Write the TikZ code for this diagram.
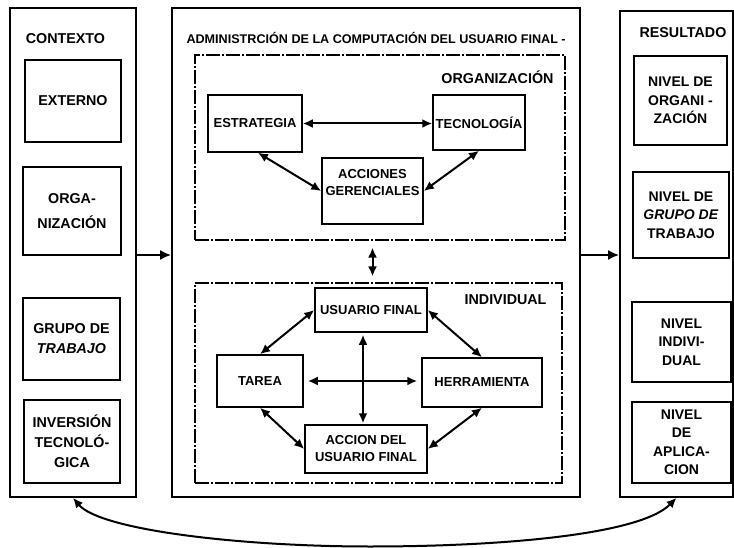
\documentclass[tikz,border=0pt]{standalone}
\usepackage{fontspec}
\setmainfont{Liberation Sans}
\usetikzlibrary{arrows.meta,calc}
\newcommand\sdfnt{\bfseries\fontsize{14.3}{20}\selectfont}
\newcommand\rsfnt{\bfseries\fontsize{14}{18.5}\selectfont}
\newcommand\cnfnt{\bfseries\fontsize{13}{17}\selectfont}
\newcommand\ttfnt{\bfseries\fontsize{12.6}{14}\selectfont}
\begin{document}
\begin{tikzpicture}[x=1pt,y=-1pt,
  outer/.style={draw, line width=1.6pt, inner sep=0pt},
  sbox/.style={draw, line width=1.5pt, align=center, inner sep=0pt, font=\sdfnt},
  rbox/.style={draw, line width=1.5pt, align=center, inner sep=0pt, font=\rsfnt},
  cbox/.style={draw, line width=1.5pt, align=center, inner sep=0pt, font=\cnfnt},
  dbox/.style={draw, line width=1.1pt, dash pattern=on 14pt off 2pt on 2pt off 2pt, inner sep=0pt},
  dbl/.style={{Latex[length=10pt,width=9pt]}-{Latex[length=10pt,width=9pt]}, line width=2pt},
  one/.style={-{Latex[length=11pt,width=10pt]}, line width=2.8pt},
]
\useasboundingbox (0,0) rectangle (734,548);
% left column
\node[outer, minimum width=126pt, minimum height=489pt] (ctx) at (73,252.5) {};
\node[font=\sdfnt] (ctxl) at (65.5,39) {CONTEXTO};
\node[sbox, minimum width=96pt, minimum height=82pt] (ext) at (73,101) {EXTERNO};
\node[sbox, minimum width=98pt, minimum height=88pt] (orgc) at (72,211) {ORGA-\\[5pt]NIZACIÓN};
\node[sbox, minimum width=97pt, minimum height=82pt] (grp) at (71.5,339) {GRUPO DE\\\textit{TRABAJO}};
\node[sbox, minimum width=96pt, minimum height=83pt] (inv) at (72,441.5) {INVERSIÓN\\TECNOLÓ-\\GICA};
% center column
\node[outer, minimum width=408pt, minimum height=489pt] (adm) at (376,252.5) {};
\node[font=\ttfnt, anchor=west] (admt) at (183,38) {ADMINISTRCIÓN DE LA COMPUTACIÓN DEL USUARIO FINAL -};
\node[dbox, minimum width=370pt, minimum height=185pt] (orgb) at (380,147.5) {};
\node[font=\sdfnt, anchor=east] (orgl) at (557,77) {ORGANIZACIÓN};
\node[cbox, minimum width=94pt, minimum height=57pt] (est) at (255,123.5) {ESTRATEGIA};
\node[cbox, minimum width=92pt, minimum height=55pt] (tec) at (479,122.5) {TECNOLOGÍA};
\node[cbox, minimum width=101pt, minimum height=66pt,
  label={[font=\cnfnt, align=center, yshift=8pt]center:ACCIONES\\GERENCIALES}] (acc) at (372.5,191) {};
\node[dbox, minimum width=367pt, minimum height=200pt] (indb) at (378.5,383) {};
\node[font=\sdfnt, anchor=east] (indl) at (550,300) {INDIVIDUAL};
\node[cbox, minimum width=112pt, minimum height=44pt] (usr) at (371,310) {USUARIO FINAL};
\node[cbox, minimum width=86pt, minimum height=52pt] (tar) at (260,381) {TAREA};
\node[cbox, minimum width=120pt, minimum height=49pt] (her) at (482,382.5) {HERRAMIENTA};
\node[cbox, minimum width=122pt, minimum height=48pt] (acn) at (366,449) {ACCION DEL\\USUARIO FINAL};
% right column
\node[outer, minimum width=113pt, minimum height=486pt] (res) at (676.5,254) {};
\node[font=\sdfnt] (resl) at (683,33) {RESULTADO};
\node[rbox, minimum width=93pt, minimum height=89pt] (n1) at (680.5,100.5) {NIVEL DE\\ORGANI -\\ZACIÓN};
\node[rbox, minimum width=96pt, minimum height=86pt] (n2) at (681,215) {NIVEL DE\\\textit{GRUPO DE}\\TRABAJO};
\node[rbox, minimum width=99pt, minimum height=80pt] (n3) at (681.5,342) {NIVEL\\INDIVI-\\DUAL};
\node[rbox, minimum width=99pt, minimum height=81pt] (n4) at (681.5,442.5) {NIVEL\\DE\\APLICA-\\CION};
% connectors
\coordinate (la) at ($(ctx.east)+(0,2.5)$);
\coordinate (ra) at ($(adm.east)+(0,2.5)$);
\draw[one] (la) -- (la -| adm.west);
\draw[one] (ra) -- (ra -| res.west);
\draw[dbl] (est.east) -- (est.east -| tec.west);
\draw[dbl] ($(est.south)+(3,0)$) -- (acc.west);
\draw[dbl] (tec.south) -- (acc.east);
\draw[dbl, shorten <=7pt, shorten >=6pt] (orgb.south -| acc.south) -- (indb.north -| acc.south);
\draw[dbl] (usr.west) -- (tar.north);
\draw[dbl] (usr.east) -- (her.north);
\draw[dbl] (tar.south) -- (acn.west);
\draw[dbl] (her.south) -- (acn.east);
\draw[dbl, shorten <=4pt, shorten >=4pt] (tar.east) -- (tar.east -| her.west);
\coordinate (vu) at ($(usr.south)+(-8,0)$);
\draw[dbl, shorten <=2pt, shorten >=1pt] (vu) -- (vu |- acn.north);
\draw[dbl] (ctx.south) .. controls (100,530) and (240,546.5) .. (370,546.5) .. controls (500,546.5) and (640,535) .. (res.south);
\end{tikzpicture}
\end{document}
